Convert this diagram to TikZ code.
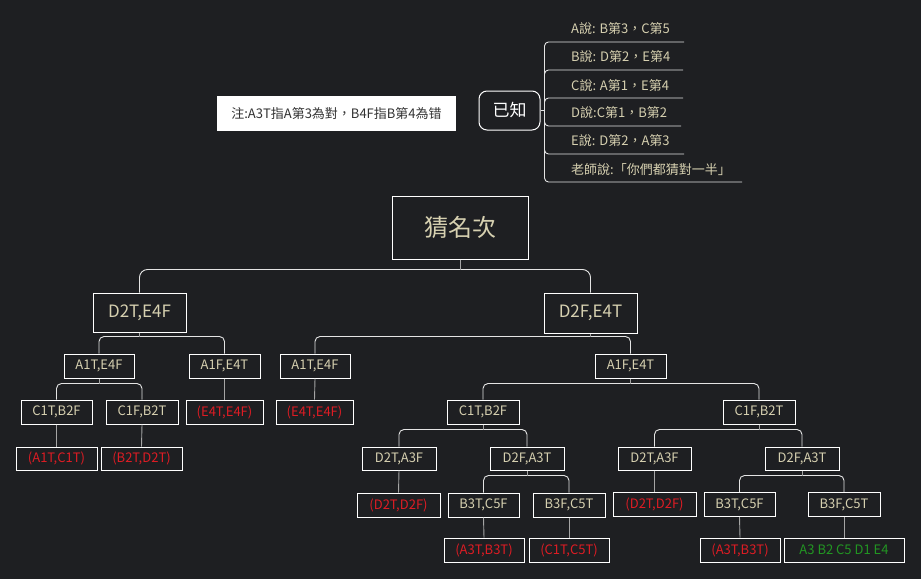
\documentclass[tikz,border=0pt]{standalone}
\usepackage{fontspec}
\setmainfont[Script=CJK, Language=Chinese Traditional]{Noto Sans CJK TC}
\usetikzlibrary{calc}
\definecolor{bg}{RGB}{30,31,34}
\definecolor{beige}{RGB}{214,208,176}
\definecolor{redt}{RGB}{222,28,36}
\definecolor{greent}{RGB}{34,150,34}
\definecolor{barc}{RGB}{228,228,228}
\definecolor{stubc}{RGB}{165,165,165}
\definecolor{notet}{RGB}{50,50,50}
\newcommand\tkids[4]{%
  \draw[barline] (#2.north) |- ($(#1.south)+(0,#4)$) -| (#3.north);
  \draw[stubline] (#1.south) -- ++(0,#4);}
\begin{document}
\begin{tikzpicture}[x=1pt,y=-1pt,
  box/.style={draw=white, line width=1pt, fill=bg, text=beige, inner sep=0pt,
    font=\fontsize{13}{15}\selectfont, minimum height=24pt},
  mbox/.style={box, font=\fontsize{17}{20}\selectfont, minimum height=39pt},
  rbox/.style={box, text=redt},
  gbox/.style={box, text=greent},
  barline/.style={draw=barc, line width=0.9pt, rounded corners=5pt},
  stubline/.style={draw=stubc, line width=0.9pt},
  lstline/.style={draw=barc, line width=0.9pt, rounded corners=4pt},
  item/.style={anchor=west, text=beige, inner sep=0pt, font=\fontsize{13}{15}\selectfont}]
\fill[bg] (0,0) rectangle (921,579);
\useasboundingbox (0,0) rectangle (921,579);

% top part
\node[fill=white, text=notet, inner sep=0pt, minimum width=239pt, minimum height=35pt,
  font=\fontsize{13}{15}\selectfont] (note) at (336.5,113.5) {注:A3T指A第3為對，B4F指B第4為错};
\node[draw=white, line width=1pt, fill=bg, text=white, rounded corners=8pt, inner sep=0pt,
  minimum width=61pt, minimum height=39pt, font=\fontsize{17}{20}\selectfont] (known) at (509.5,110.5) {已知};
\node[item] (i1) at (571,29) {A說: B第3，C第5};
\node[item] (i2) at (571,57) {B說: D第2，E第4};
\node[item] (i3) at (571,86) {C說: A第1，E第4};
\node[item] (i4) at (571,113) {D說:C第1，B第2};
\node[item] (i5) at (571,141) {E說: D第2，A第3};
\node[item] (i6) at (571,170) {老師說:「你們都猜對一半」};
\coordinate (k0) at ($(known.east)+(4,0)$);
\coordinate (u1) at (684,42);
\coordinate (u2) at (683,70);
\coordinate (u3) at (683,98);
\coordinate (u4) at (681,126);
\coordinate (u5) at (684,154);
\coordinate (u6) at (742,182);
\draw[stubline, draw=barc] (known.east) -- (k0);
\foreach \u in {u1,u2,u3,u4,u5,u6} \draw[lstline] (k0) |- (\u);

% tree
\node[box, font=\fontsize{24}{28}\selectfont, minimum width=136pt, minimum height=63pt] (root) at (460,227.5) {猜名次};
\node[mbox, minimum width=93pt] (m1) at (139.5,312.5) {D2T,E4F};
\node[mbox, minimum width=93pt, minimum height=40pt] (m2) at (590.5,313) {D2F,E4T};
\node[box, minimum width=70pt] (a1) at (99,366) {A1T,E4F};
\node[box, minimum width=71pt] (a2) at (224.5,366) {A1F,E4T};
\node[box, minimum width=70pt] (a3) at (315,366) {A1T,E4F};
\node[box, minimum width=71pt] (a4) at (630.5,366) {A1F,E4T};
\node[box, minimum width=71pt] (c1) at (56.5,412) {C1T,B2F};
\node[box, minimum width=72pt] (c2) at (142,412) {C1F,B2T};
\node[rbox, minimum width=77pt] (e1) at (224.5,412) {(E4T,E4F)};
\node[rbox, minimum width=77pt] (e2) at (314.5,412) {(E4T,E4F)};
\node[box, minimum width=72pt] (c3) at (483,412) {C1T,B2F};
\node[box, minimum width=72pt] (c4) at (759,412) {C1F,B2T};
\node[rbox, minimum width=81pt, minimum height=23pt] (r1) at (56.5,458.5) {(A1T,C1T)};
\node[rbox, minimum width=81pt, minimum height=23pt] (r2) at (141.5,458.5) {(B2T,D2T)};
\node[box, minimum width=74pt, minimum height=23pt] (d1) at (399,458.5) {D2T,A3F};
\node[box, minimum width=74pt, minimum height=23pt] (d2) at (527,458.5) {D2F,A3T};
\node[box, minimum width=73pt, minimum height=23pt] (d3) at (654.5,458.5) {D2T,A3F};
\node[box, minimum width=74pt, minimum height=23pt] (d4) at (802,458.5) {D2F,A3T};
\node[rbox, minimum width=83pt] (r3) at (398.5,505) {(D2T,D2F)};
\node[box, minimum width=71pt] (b1) at (483.5,505) {B3T,C5F};
\node[box, minimum width=72pt] (b2) at (569,505) {B3F,C5T};
\node[rbox, minimum width=83pt] (r4) at (654.5,504.5) {(D2T,D2F)};
\node[box, minimum width=71pt] (b3) at (739.5,504.5) {B3T,C5F};
\node[box, minimum width=72pt] (b4) at (844,504.5) {B3F,C5T};
\node[rbox, minimum width=80pt] (r5) at (484,550) {(A3T,B3T)};
\node[rbox, minimum width=80pt] (r6) at (569,550) {(C1T,C5T)};
\node[rbox, minimum width=80pt] (r7) at (740,550) {(A3T,B3T)};
\node[gbox, minimum width=120pt] (g1) at (844,550) {A3 B2 C5 D1 E4};

\draw[barline, rounded corners=8pt] (m1.north) |- ($(root.south)+(0,10)$) -| (m2.north);
\draw[stubline] (root.south) -- ++(0,10);
\tkids{m1}{a1}{a2}{4}
\tkids{m2}{a3}{a4}{3}
\tkids{a1}{c1}{c2}{5}
\tkids{a4}{c3}{c4}{5}
\tkids{c3}{d1}{d2}{5}
\tkids{c4}{d3}{d4}{5}
\tkids{d2}{b1}{b2}{5}
\tkids{d4}{b3}{b4}{5}
\draw[stubline] (a2.south) -- (e1.north);
\draw[stubline] (a3.south) -- (e2.north);
\draw[stubline] (c1.south) -- (r1.north);
\draw[stubline] (c2.south) -- (r2.north);
\draw[stubline] (d1.south) -- (r3.north);
\draw[stubline] (d3.south) -- (r4.north);
\draw[stubline] (b1.south) -- (r5.north);
\draw[stubline] (b2.south) -- (r6.north);
\draw[stubline] (b3.south) -- (r7.north);
\draw[stubline] (b4.south) -- (g1.north);
\end{tikzpicture}
\end{document}
